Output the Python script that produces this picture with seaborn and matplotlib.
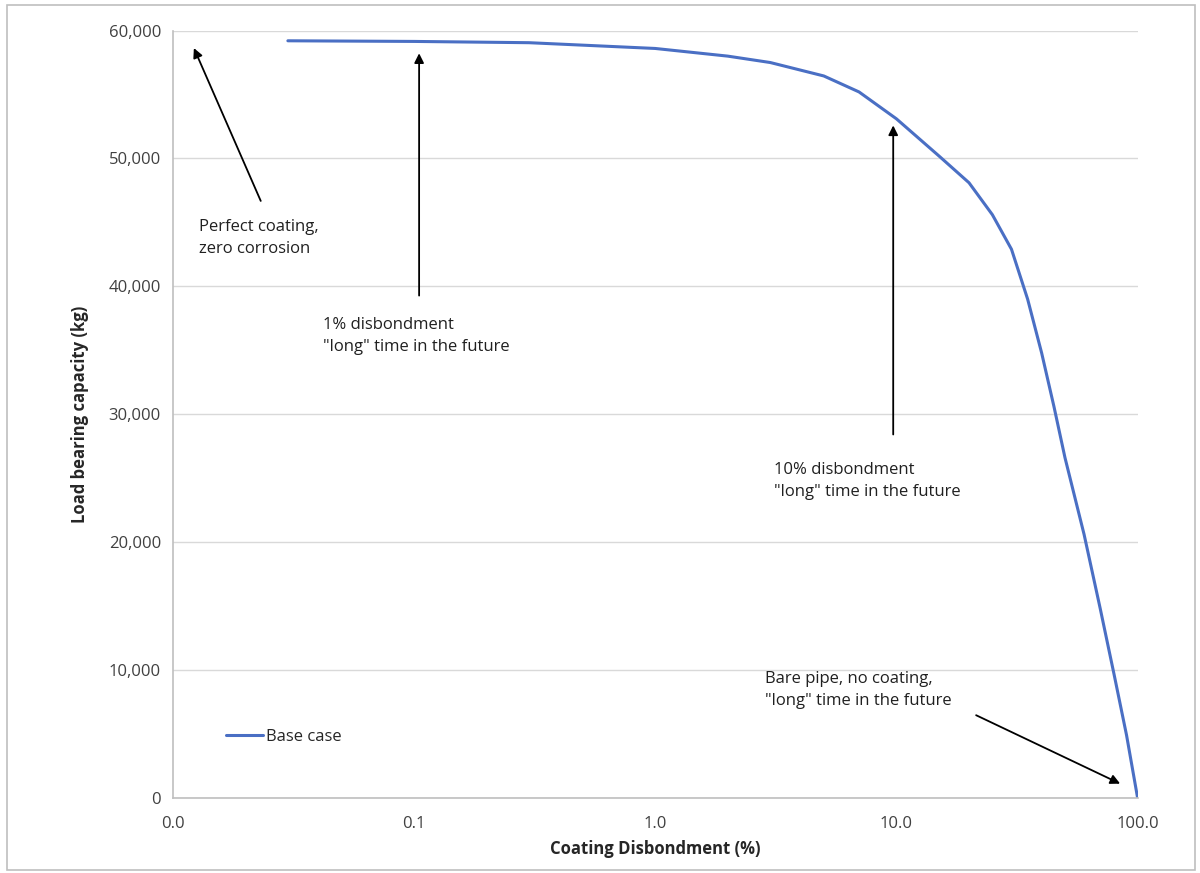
import numpy as np
import pandas as pd
import matplotlib
matplotlib.use('Agg')
import matplotlib.pyplot as plt
import seaborn as sns
from matplotlib.patches import Rectangle

# Coating disbondment (%) vs load bearing capacity (kg)
disbondment = [0.03, 0.1, 0.3, 1, 2, 3, 5, 7, 10, 15, 20, 25, 30, 35, 40, 45, 50,
               60, 70, 80, 90, 100]
capacity = [59200, 59150, 59050, 58600, 58000, 57500, 56450, 55200, 53100, 50200,
            48100, 45600, 42900, 39000, 34800, 30600, 26600, 20600, 14800, 9600,
            4900, 0]
series_name = 'Base case'

x_ticks = [0.01, 0.1, 1, 10, 100]
y_ticks = [0, 10000, 20000, 30000, 40000, 50000, 60000]

LINE = '#4A6FC4'
GRID = '#D9D9D9'
AXIS = '#BFBFBF'

sns.set_style('white')
plt.rcParams['font.family'] = ['Open Sans', 'DejaVu Sans']

df = pd.DataFrame({'x': disbondment, 'y': capacity, 'series': series_name})

fig = plt.figure(figsize=(12, 8.73), dpi=100)
ax = fig.add_axes([0.144, 0.086, 0.804, 0.879])

sns.lineplot(data=df, x='x', y='y', hue='series', palette=[LINE], linewidth=2.2,
             ax=ax, legend=True)

ax.set_xscale('log')
ax.set_xlim(0.01, 100)
ax.set_ylim(0, 60000)
ax.set_xticks(x_ticks)
ax.xaxis.set_minor_locator(matplotlib.ticker.NullLocator())
ax.xaxis.set_major_formatter(plt.FuncFormatter(lambda v, _: f'{v:.1f}'))
ax.set_yticks(y_ticks)
ax.yaxis.set_major_formatter(plt.FuncFormatter(lambda v, _: f'{int(v):,}'))
ax.tick_params(axis='both', labelsize=12, colors='#404040', length=5, width=1)
ax.tick_params(axis='both', color=AXIS)
ax.tick_params(axis='x', pad=8)

ax.grid(axis='y', color=GRID, linewidth=1)
ax.set_axisbelow(True)
for side in ['top', 'right']:
    ax.spines[side].set_visible(False)
for side in ['left', 'bottom']:
    ax.spines[side].set_color(AXIS)
    ax.spines[side].set_linewidth(1.2)

ax.set_xlabel('Coating Disbondment (%)', fontsize=12, fontweight='bold', labelpad=6)
ax.set_ylabel('Load bearing capacity (kg)', fontsize=12, fontweight='bold', labelpad=14)

leg = ax.legend(loc='lower left', bbox_to_anchor=(0.04, 0.05), frameon=False,
                fontsize=12, handlelength=2.2, handletextpad=0.2)

arrow = dict(arrowstyle='-|>', color='black', lw=1.3, mutation_scale=14)
ann = dict(fontsize=12, color='#202020', ha='left', va='top', linespacing=1.5)

ax.annotate('', xy=(0.0121, 58830), xytext=(0.0234, 46480), arrowprops=arrow)
ax.text(0.0128, 45300, 'Perfect coating,\nzero corrosion', **ann)

ax.annotate('', xy=(0.105, 58440), xytext=(0.105, 39060), arrowprops=arrow)
ax.text(0.042, 37600, '1% disbondment\n"long" time in the future', **ann)

ax.annotate('', xy=(9.7, 52800), xytext=(9.7, 28200), arrowprops=arrow)
ax.text(3.1, 26300, '10% disbondment\n"long" time in the future', **ann)

ax.annotate('', xy=(86.7, 1020), xytext=(20.9, 6560), arrowprops=arrow)
ax.text(2.85, 9900, 'Bare pipe, no coating,\n"long" time in the future', **ann)

fig.patches.append(Rectangle((0.006, 0.004), 0.99, 0.99, transform=fig.transFigure,
                             fill=False, edgecolor=AXIS, linewidth=1.2))

fig.savefig('out.png', dpi=100)
